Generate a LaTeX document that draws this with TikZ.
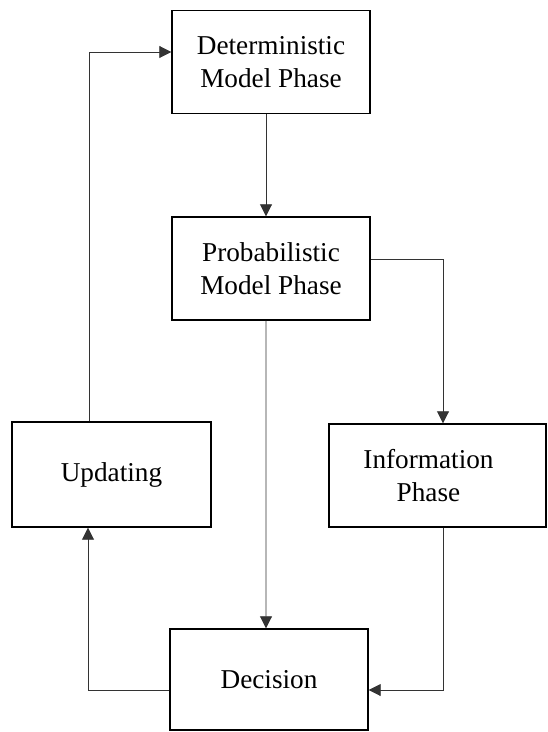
\documentclass[tikz,border=0pt]{standalone}
\usepackage{fontspec}
\setmainfont{Liberation Serif}
\usepackage{tikz}
\usetikzlibrary{arrows.meta}

\begin{document}
\begin{tikzpicture}[
  phase/.style={draw, line width=0.8pt, inner sep=0pt, align=center,
    font=\fontsize{15.5}{18.8}\selectfont, minimum width=3.96cm, minimum height=2.06cm},
  conn/.style={draw=black!80, line width=0.5pt, -{Triangle[length=2.4mm,width=2.4mm]}}
]
\useasboundingbox (0,0) rectangle (10.94,-14.64);

\node[phase] (det) at (5.42,-1.24) {Deterministic\\Model Phase};
\node[phase] (prob) at (5.42,-5.37) {Probabilistic\\Model Phase};
\node[phase, minimum width=3.98cm, minimum height=2.10cm] (upd) at (2.23,-9.49) {Updating};
\node[phase, minimum width=4.34cm] (info) at (8.75,-9.51)
  {Information\hspace*{0.36cm}\\Phase\hspace*{0.36cm}};
\node[phase, minimum height=2.02cm] (dec) at (5.38,-13.59) {Decision};

\draw[conn] ([xshift=-0.1cm]det.south) -- ([xshift=-0.1cm]prob.north);
\draw[conn] ([yshift=0.19cm]prob.east) -| ([xshift=0.11cm]info.north);
\draw[conn] ([xshift=-0.1cm]prob.south) -- ([xshift=-0.06cm]dec.north);
\draw[conn] ([xshift=0.11cm]info.south) |- ([yshift=-0.21cm]dec.east);
\draw[conn] ([yshift=-0.21cm]dec.west) -| ([xshift=-0.47cm]upd.south);
\draw[conn] ([xshift=-0.45cm]upd.north) |- ([yshift=0.2cm]det.west);
\end{tikzpicture}
\end{document}
